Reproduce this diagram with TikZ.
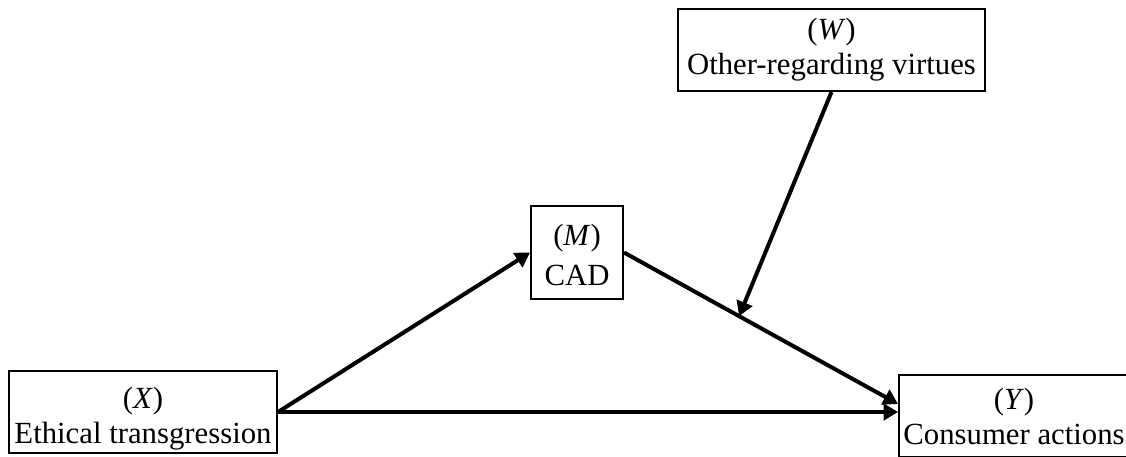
\documentclass[tikz,border=0pt]{standalone}
\usepackage{fontspec}
\setmainfont{Liberation Serif}
\usetikzlibrary{arrows.meta}

\begin{document}
\begin{tikzpicture}[x=0.4pt, y=0.4pt]
          \tikzstyle{varbox}=[draw, line width=0.8pt, inner sep=0pt, minimum height=32.8pt]
          \tikzstyle{varlabel}=[align=center, inner sep=0pt, font=\fontsize{12.3pt}{14pt}\selectfont]
          \tikzstyle{effect}=[line width=1.6pt, -{Triangle[length=5.8pt, width=6.6pt]}]

          \useasboundingbox (0, 0) rectangle (1126, 456);

          \node (x) at (143, 44) [varbox, minimum width=107.2pt] {};
          \node (xlabel) at (143, 37) [varlabel] {(\textit{X})\\Ethical transgression};

          \node (m) at (577, 203.5) [varbox, minimum width=36.8pt, minimum height=37.2pt] {};
          \node (mlabel) at (577, 201) [varlabel] {(\textit{M})\\[2pt]CAD};

          \node (w) at (831.5, 406) [varbox, minimum width=122.8pt] {};
          \node (wlabel) at (831.5, 406) [varlabel] {(\textit{W})\\Other-regarding virtues};

          \node (y) at (1014, 40) [varbox, minimum width=92pt] {};
          \node (ylabel) at (1014, 40) [varlabel] {(\textit{Y})\\Consumer actions};

          \coordinate (ytop) at ([yshift=-12pt]y.north west);

          \draw [effect] (x.east) -- (m.west);
          \draw [effect] (x.east) -- (y.west |- x.east);
          \draw [effect] (m.east) -- coordinate[pos=0.42] (mod) (ytop);
          \draw [effect] (w.south) -- (mod);
        \end{tikzpicture}
\end{document}
